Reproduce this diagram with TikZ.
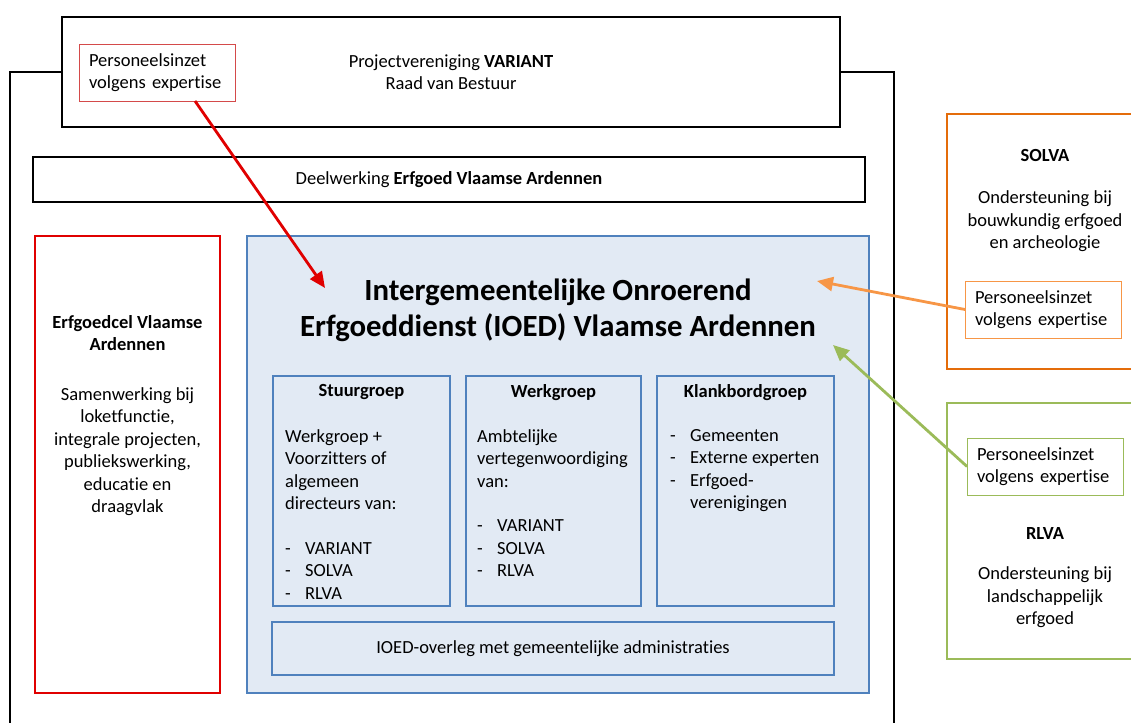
\documentclass[tikz,border=0pt]{standalone}
\usepackage{fontspec}
\setmainfont{Carlito}[Ligatures=NoCommon]
\usetikzlibrary{positioning}
\usetikzlibrary{arrows.meta}

\definecolor{rood}{HTML}{E00000}
\definecolor{zachtrood}{HTML}{D44A4A}
\definecolor{oranje}{HTML}{E46C0A}
\definecolor{lichtoranje}{HTML}{F79646}
\definecolor{groen}{HTML}{9BBB59}
\definecolor{blauw}{HTML}{4F81BD}
\definecolor{lichtblauw}{HTML}{E2EAF4}

\newcommand{\tekstfont}{\fontsize{18.5}{22.5}\selectfont}
\newcommand{\titelfont}{\fontsize{30.8}{36}\selectfont\bfseries}
\newcommand{\streep}{\makebox[20pt][l]{-}}

\begin{document}
\begin{tikzpicture}[x=1pt, y=-1pt,
         kader/.style  = {draw, line width=2.6pt, inner sep=0pt, outer sep=0pt, anchor=north west},
         groep/.style  = {kader, draw=blauw, minimum width=177pt, minimum height=230pt},
         etiket/.style = {draw, line width=0.9pt, fill=white, anchor=north west, outer sep=0pt,
                          text width=136pt, align=left, inner xsep=10pt, inner ysep=0pt,
                          minimum height=57pt, font=\tekstfont},
         tekst/.style  = {inner sep=0pt, align=center, font=\tekstfont},
         lijst/.style  = {inner sep=0pt, align=left, font=\tekstfont},
         pijl/.style   = {line width=2.8pt, -{Triangle[length=16pt,width=14pt]}}
]
      \useasboundingbox (0,0) rectangle (1131,722);

      % projectvereniging bovenaan
      \node[kader, fill=white, minimum width=778pt, minimum height=110pt] (bestuur) at (62,17) {};
      \node[tekst] at (bestuur.center) {Projectvereniging \textbf{VARIANT}\\Raad van Bestuur};
      \node[etiket, draw=zachtrood] (inzet1) at (79,44) {Personeelsinzet\\\mbox{volgens expertise}};

      % buitenkader
      \draw[line width=2.6pt] (bestuur.west) -| (10,740);
      \draw[line width=2.6pt] (bestuur.east) -| (894,740);

      % deelwerking
      \node[kader, minimum width=832pt, minimum height=45pt, font=\tekstfont] (deel) at (33,157)
         {Deelwerking \textbf{Erfgoed Vlaamse Ardennen}};

      % erfgoedcel
      \node[kader, draw=rood, minimum width=185pt, minimum height=457pt] (cel) at (35,236) {};
      \node[tekst, below=79pt of cel.north] {\textbf{Erfgoedcel Vlaamse}\\\textbf{Ardennen}\\[27pt]
         Samenwerking bij\\loketfunctie,\\integrale projecten,\\publiekswerking,\\educatie en\\draagvlak};

      % IOED
      \node[kader, draw=blauw, fill=lichtblauw, minimum width=622pt, minimum height=457pt] (ioed) at (247,236) {};
      \node[inner sep=0pt, align=center, font=\titelfont, below=43pt of ioed.north] (titel)
         {Intergemeentelijke Onroerend\\Erfgoeddienst (IOED) Vlaamse Ardennen};

      \node[groep] (stuur) at (273,376) {};
      \node[groep, minimum width=175pt, right=16pt of stuur] (werk) {};
      \node[groep, right=16pt of werk] (klank) {};

      \node[tekst, font=\tekstfont\bfseries, below=8pt of stuur.north] {Stuurgroep};
      \node[tekst, font=\tekstfont\bfseries, below=8pt of werk.north] {Werkgroep};
      \node[tekst, font=\tekstfont\bfseries, below=8pt of klank.north] {Klankbordgroep};

      \node[lijst, below right=53pt and 12pt of stuur.north west]
         {Werkgroep +\\Voorzitters of\\algemeen\\directeurs van:\\[22pt]\streep VARIANT\\\streep SOLVA\\\streep RLVA};
      \node[lijst, below right=53pt and 11pt of werk.north west]
         {Ambtelijke\\vertegenwoordiging\\van:\\[22pt]\streep VARIANT\\\streep SOLVA\\\streep RLVA};
      \node[lijst, below right=53pt and 13pt of klank.north west]
         {\streep Gemeenten\\\streep Externe experten\\\streep Erfgoed-\\\hspace*{20pt}verenigingen};

      \node[kader, draw=blauw, minimum width=562pt, minimum height=53pt, font=\tekstfont,
         below right=16pt and -1pt of stuur.south west] (overleg)
         {IOED-overleg met gemeentelijke administraties};

      % SOLVA
      \node[kader, draw=oranje, minimum width=196pt, minimum height=255pt] (solva) at (947,114) {};
      \node[tekst, below=35pt of solva.north] {\textbf{SOLVA}\\[20pt]Ondersteuning bij\\bouwkundig erfgoed\\en archeologie};
      \node[etiket, draw=lichtoranje] (inzet2) at (965,281) {Personeelsinzet\\\mbox{volgens expertise}};

      % RLVA
      \node[kader, draw=groen, minimum width=196pt, minimum height=256pt] (rlva) at (947,403) {};
      \node[etiket, draw=groen] (inzet3) at (967,438) {Personeelsinzet\\\mbox{volgens expertise}};
      \node[tekst, below=124pt of rlva.north] {\textbf{RLVA}\\[18pt]Ondersteuning bij\\landschappelijk\\erfgoed};

      % personeelsinzet naar de IOED
      \coordinate (rood-punt) at (325,288);
      \coordinate (oranje-punt) at (817,281);
      \coordinate (groen-punt) at (833,345);
      \draw[pijl, color=rood] ([xshift=38pt]inzet1.south) -- (rood-punt);
      \draw[pijl, color=lichtoranje] (inzet2.west) -- (oranje-punt);
      \draw[pijl, color=groen] (inzet3.west) -- (groen-punt);
\end{tikzpicture}
\end{document}
